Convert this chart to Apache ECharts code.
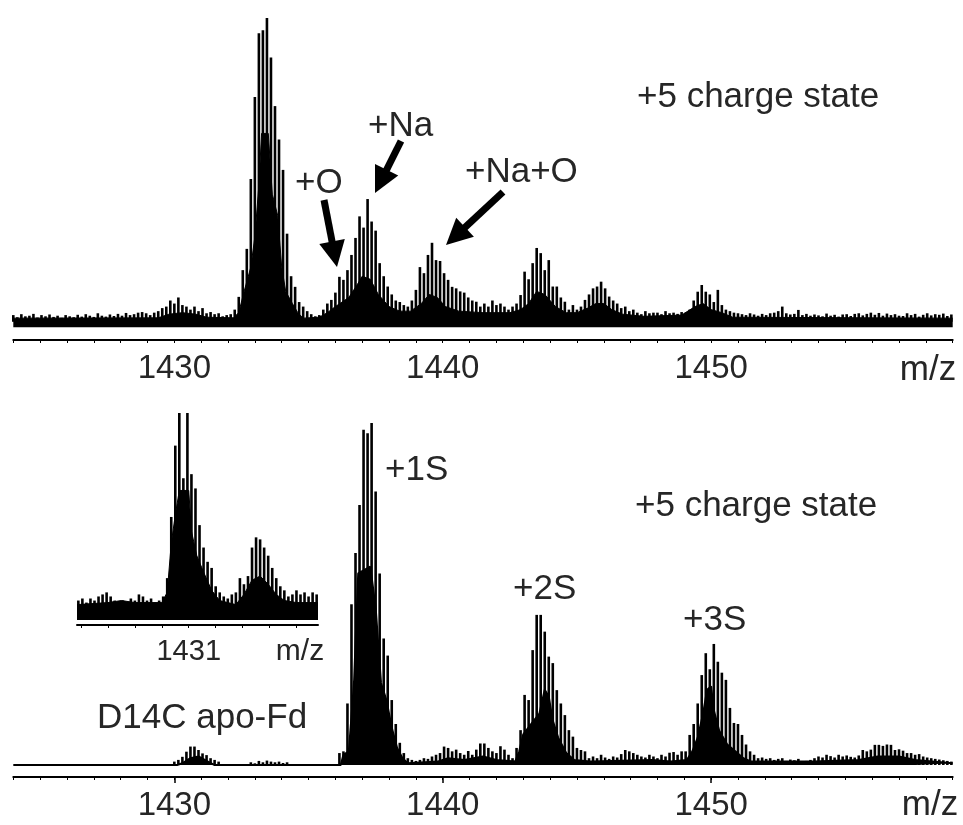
<!DOCTYPE html>
<html>
<head>
<meta charset="utf-8">
<title>D14C apo-Fd, +5 charge state</title>
<script src="https://cdn.jsdelivr.net/npm/echarts@6/dist/echarts.min.js"></script>
<style>
  html, body { margin: 0; padding: 0; background: #fff; }
  #chart { width: 963px; height: 825px; }
</style>
</head>
<body>
<div id="chart"></div>
<script>
// m/z axis shared by the two big panels
var mzMin = 1424, mzMax = 1459;
var tickLabels = [1430, 1440, 1450];
var step = 0.15;            // sample spacing of the spectra (m/z)

// top spectrum: spike heights from 1424 m/z, every 0.15
var topSpikes = [
  2.2, 1.5, 2.5, 1.8, 2.0, 2.6, 1.4, 2.2, 1.8, 2.4,
  1.6, 2.0, 1.3, 2.2, 1.8, 1.5, 2.3, 1.7, 2.5, 2.0,
  1.6, 2.8, 2.0, 1.7, 2.4, 1.9, 2.6, 2.0, 2.9, 2.2,
  2.5, 3.0, 3.2, 2.8, 2.2, 3.0, 3.5, 4.5, 5.0, 7.0,
  6.0, 8.0, 5.5, 5.0, 4.0, 5.0, 3.5, 4.5, 2.8, 3.2,
  2.5, 2.8, 1.8, 2.2, 2.5, 4.0, 8.2, 17, 24, 47,
  74, 95, 96, 100, 87, 71, 60, 50, 29, 15,
  11.5, 6.5, 5.0, 3.5, 2.5, 1.8, 2.2, 4.0, 6.0, 7.2,
  9.6, 14.8, 13.8, 17, 22, 27.6, 34.7, 31, 40.4, 33,
  30, 19.3, 15, 11.6, 9.0, 7.0, 6.5, 5.5, 5.0, 7.0,
  10.5, 18, 16, 22, 26, 20.3, 20, 16, 13.8, 11.5,
  11, 10, 9.6, 8.0, 7.0, 6.6, 5.0, 6.0, 5.0, 7.0,
  5.5, 6.0, 5.0, 4.0, 5.0, 6.0, 8.8, 16.5, 14, 19.3,
  24.3, 22.6, 17, 20.3, 11.6, 11.6, 8.0, 6.6, 4.0, 5.5,
  4.0, 5.0, 7.2, 9.0, 11, 11.6, 13.2, 11, 8.3, 7.0,
  6.0, 4.5, 5.0, 3.5, 4.0, 3.0, 2.5, 3.5, 2.8, 3.0,
  3.0, 2.5, 3.5, 2.8, 3.0, 2.6, 3.2, 3.0, 4.0, 7.0,
  9.9, 12.1, 9.9, 9.0, 6.5, 10.5, 5.5, 4.0, 3.5, 3.0,
  2.8, 2.5, 2.2, 2.8, 2.4, 2.0, 2.6, 2.2, 2.8, 3.0,
  3.5, 5.0, 2.8, 2.4, 2.6, 3.9, 2.2, 2.6, 2.0, 2.4,
  2.1, 1.8, 2.7, 2.0, 2.3, 1.7, 2.4, 2.5, 1.9, 2.6,
  2.8, 2.1, 2.6, 3.0, 2.3, 2.9, 2.0, 2.7, 2.2, 2.5,
  2.0, 1.9, 2.8, 2.2, 2.6, 1.7, 2.3, 2.8, 2.1, 2.5,
  2.3, 2.7, 1.9, 2.4
];
// top spectrum: solid lower part (noise band and peak cores)
var topCore = [
  [1424, 1.2], [1429.4, 1.3], [1429.8, 2.5], [1430.3, 3], [1430.8, 2.5], [1431.2, 1.5],
  [1432.2, 1.3], [1432.4, 3], [1432.6, 10], [1432.85, 18], [1433.0, 28], [1433.15, 45],
  [1433.25, 62], [1433.5, 62], [1433.65, 42], [1433.85, 35], [1434.0, 18], [1434.15, 10],
  [1434.4, 6], [1434.6, 3], [1434.8, 1.2], [1435.4, 1.5], [1435.7, 3], [1436.0, 5],
  [1436.5, 8], [1436.8, 12], [1437.0, 15], [1437.3, 14], [1437.6, 9], [1438.0, 5],
  [1438.4, 3.5], [1438.8, 3.5], [1439.2, 6], [1439.5, 9], [1439.8, 8], [1440.1, 5],
  [1440.6, 3.5], [1441.5, 3], [1442.5, 3], [1442.9, 4], [1443.2, 6], [1443.5, 10],
  [1443.8, 9], [1444.2, 5], [1444.6, 3], [1445.0, 3], [1445.4, 4.5], [1445.7, 6],
  [1446.0, 6], [1446.3, 4], [1446.7, 2.5], [1447.5, 1.8], [1448.9, 2.2], [1449.4, 5],
  [1449.7, 6], [1450.0, 4], [1450.4, 3], [1450.8, 1.5], [1459, 1.2]
];

// bottom spectrum (D14C apo-Fd): spike heights from 1424 m/z, every 0.15
var bottomSpikes = [
  0, 0, 0, 0, 0, 0, 0, 0, 0, 0,
  0, 0, 0, 0, 0, 0, 0, 0, 0, 0,
  0, 0, 0, 0, 0, 0, 0, 0, 0, 0,
  0, 0, 0, 0, 0, 0, 0, 0, 0, 0,
  1.0, 1.5, 2.4, 3.9, 5.4, 5.4, 4.4, 3.4, 2.9, 2.0,
  1.5, 1.0, 0, 0, 0, 0, 0, 0, 0, 0.8,
  0.5, 1.2, 0.8, 1.3, 1.0, 0.8, 1.0, 0.6, 0.8, 0,
  0, 0, 0, 0, 0, 0, 0, 0, 0, 0,
  0, 3.5, 4.0, 18, 47, 62, 76, 98, 97, 100,
  80, 56, 37, 32, 19, 12, 6.5, 3.5, 2.0, 1.5,
  1.2, 1.5, 2.0, 1.8, 2.5, 3.0, 3.5, 5.4, 5.0, 4.0,
  4.5, 3.5, 3.0, 4.1, 3.0, 4.5, 6.3, 6.3, 5.0, 4.0,
  3.5, 5.5, 4.5, 3.0, 2.0, 5.0, 10.2, 20.5, 19, 33.6,
  43.9, 43.9, 39, 31.7, 29.8, 21.9, 18, 14.6, 10.2, 8.3,
  5.0, 4.4, 4.0, 2.0, 2.5, 2.0, 3.0, 2.2, 1.8, 2.5,
  2.2, 3.2, 4.4, 4.0, 3.5, 3.0, 2.5, 2.2, 3.0, 2.5,
  2.0, 3.0, 2.5, 3.6, 3.8, 3.0, 4.0, 4.0, 8.8, 12,
  18, 26.3, 32.7, 28, 35.4, 30.2, 27, 24.9, 16.7, 12.3,
  12, 8.8, 6.0, 4.0, 3.0, 2.0, 2.2, 1.8, 2.0, 1.5,
  1.8, 2.0, 1.2, 1.6, 1.4, 1.8, 1.0, 1.2, 1.5, 2.0,
  2.5, 2.2, 3.0, 2.6, 2.2, 3.0, 2.5, 2.8, 2.4, 2.2,
  2.8, 4.4, 4.0, 4.5, 5.9, 5.9, 5.6, 6.0, 5.9, 4.4,
  4.6, 4.2, 3.5, 3.5, 3.0, 3.2, 2.5, 2.2, 2.0, 1.8,
  1.6, 1.4, 1.2, 1.0
];
var bottomCore = [
  [1424, 0], [1430.1, 0], [1430.3, 0.5], [1430.6, 2], [1430.9, 2.5], [1431.2, 1.2],
  [1431.5, 0], [1436.2, 0], [1436.3, 3], [1436.5, 4], [1436.6, 14], [1436.7, 25],
  [1436.85, 56], [1437.3, 58], [1437.5, 46], [1437.7, 24], [1437.9, 19], [1438.1, 11],
  [1438.3, 5], [1438.5, 2], [1438.7, 0.5], [1439.8, 1], [1440.2, 2], [1440.8, 1.5],
  [1441.5, 2.5], [1442.0, 1.5], [1442.7, 1], [1442.85, 4], [1443.0, 9], [1443.3, 12],
  [1443.6, 15], [1443.8, 22], [1443.95, 20], [1444.1, 13], [1444.3, 8], [1444.6, 3.5],
  [1444.9, 1.5], [1445.5, 1], [1447.8, 1.5], [1448.5, 1], [1449.1, 1.5], [1449.3, 4],
  [1449.5, 8], [1449.7, 15], [1449.85, 22], [1450.0, 23], [1450.1, 16], [1450.3, 10],
  [1450.6, 6], [1450.9, 4], [1451.2, 2], [1451.5, 1], [1453.8, 1], [1455.5, 1.5],
  [1456.2, 2.5], [1457.0, 2.5], [1457.6, 1.5], [1459, 0.5]
];

// inset: zoom around 1431
var insetMin = 1430.17, insetMax = 1431.96;
var insetStart = 1430.18, insetStep = 0.03;
var insetTicks = [1430.2, 1430.4, 1430.6, 1430.8, 1431.0, 1431.2, 1431.4, 1431.6, 1431.8];
var insetLabels = [1431];
var insetSpikes = [
  8, 9, 7, 9, 8, 10, 11, 12, 10, 8,
  7, 8, 7, 9, 8, 11, 10, 8, 9, 7,
  8, 10, 19, 49, 84, 100, 68, 100, 70, 63,
  45, 34, 27, 24, 15, 12, 10, 9, 11, 12,
  19, 16, 20, 34, 39, 38, 34, 30, 24, 19,
  15, 13, 10, 11, 13, 11, 12, 10, 12, 11
];
var insetCore = [
  [1430.17, 6], [1430.4, 7], [1430.5, 8], [1430.6, 7], [1430.8, 7], [1430.84, 12],
  [1430.87, 36], [1430.9, 50], [1430.93, 62], [1431.0, 62], [1431.02, 42], [1431.06, 30],
  [1431.11, 22], [1431.17, 13], [1431.23, 8], [1431.35, 6], [1431.41, 11], [1431.47, 18],
  [1431.53, 20], [1431.59, 16], [1431.65, 11], [1431.71, 8], [1431.8, 7], [1431.96, 7]
];

var font = '"Liberation Sans", Arial, sans-serif';
var ink = '#262626';

function toPairs(start, d, values) {
  return values.map(function (v, i) {
    return [+(start + i * d).toFixed(3), v];
  });
}

function mainAxis(grid) {
  return {
    type: 'value', gridIndex: grid, position: 'bottom', min: mzMin, max: mzMax, interval: 1,
    axisLine: { onZero: false, lineStyle: { color: '#000', width: 2 } },
    axisTick: { length: 3, lineStyle: { color: '#000', width: 1 } },
    axisLabel: {
      margin: 12, fontSize: 33, fontFamily: font, color: ink,
      formatter: function (v) { return tickLabels.indexOf(v) >= 0 ? String(v) : ''; }
    },
    splitLine: { show: false }
  };
}

function spikes(xi, data) {
  return {
    type: 'bar', xAxisIndex: xi, yAxisIndex: xi, data: data,
    barWidth: 2.6, itemStyle: { color: '#000' }, silent: true
  };
}

function core(xi, data, origin, w) {
  return {
    type: 'line', xAxisIndex: xi, yAxisIndex: xi, data: data,
    symbol: 'none', silent: true,
    lineStyle: { color: '#000', width: w },
    areaStyle: { color: '#000', opacity: 1, origin: origin }
  };
}

function text(str, x, y, size, align) {
  return {
    type: 'text', x: x, y: y, silent: true,
    style: {
      text: str, fontSize: size, fontFamily: font, fill: ink,
      align: align || 'left', verticalAlign: 'middle'
    }
  };
}

function arrow(x1, y1, x2, y2) {
  var dx = x2 - x1, dy = y2 - y1, len = Math.sqrt(dx * dx + dy * dy);
  var ux = dx / len, uy = dy / len;
  var hl = 26, hw = 13;
  var bx = x2 - ux * hl, by = y2 - uy * hl;
  return {
    type: 'group', silent: true,
    children: [
      { type: 'line', shape: { x1: x1, y1: y1, x2: bx + ux * 3, y2: by + uy * 3 },
        style: { stroke: '#000', lineWidth: 7 } },
      { type: 'polygon',
        shape: { points: [[x2, y2], [bx - uy * hw, by + ux * hw], [bx + uy * hw, by - ux * hw]] },
        style: { fill: '#000' } }
    ]
  };
}

var chart = echarts.init(document.getElementById('chart'));

chart.setOption({
  animation: false,
  backgroundColor: '#fff',
  grid: [
    { left: 13.3, top: 18, width: 939.4, height: 322 },
    { left: 13.3, top: 423, width: 939.4, height: 354 },
    { left: 77, top: 413, width: 241, height: 212 }
  ],
  xAxis: [
    mainAxis(0),
    mainAxis(1),
    {
      type: 'value', gridIndex: 2, position: 'bottom', min: insetMin, max: insetMax,
      axisLine: { onZero: false, lineStyle: { color: '#000', width: 2 } },
      axisTick: { customValues: insetTicks, length: 3, lineStyle: { color: '#000', width: 1 } },
      axisLabel: {
        customValues: insetLabels, margin: 12, fontSize: 29, fontFamily: font, color: ink,
        formatter: function (v) { return String(Math.round(v)); }
      },
      splitLine: { show: false }
    },
    {
      // longer ticks at the labelled values of the lower panel
      type: 'value', gridIndex: 1, position: 'bottom', offset: 0, min: mzMin, max: mzMax,
      axisLine: { show: false, onZero: false },
      axisTick: { inside: false, customValues: tickLabels, length: 6, lineStyle: { color: '#000', width: 1.5 } },
      axisLabel: { show: false },
      splitLine: { show: false }
    }
  ],
  yAxis: [
    { type: 'value', gridIndex: 0, min: -6, max: 100, show: false, splitLine: { show: false } },
    { type: 'value', gridIndex: 1, min: -3.5, max: 100, show: false, splitLine: { show: false } },
    { type: 'value', gridIndex: 2, min: -4, max: 100, show: false, splitLine: { show: false } }
  ],
  series: [
    core(0, topCore, -1.8, 1),
    spikes(0, toPairs(mzMin, step, topSpikes)),
    core(1, bottomCore, 0, 2),
    spikes(1, toPairs(mzMin, step, bottomSpikes)),
    core(2, insetCore, -1.5, 1),
    spikes(2, toPairs(insetStart, insetStep, insetSpikes))
  ],
  graphic: [
    text('+5 charge state', 637, 97, 35),
    text('+Na', 368, 126, 35),
    text('+O', 295, 183, 35),
    text('+Na+O', 465, 172, 35),
    arrow(324, 200, 337, 267),
    arrow(401, 141, 375, 193),
    arrow(503, 192, 446, 245),
    text('m/z', 928, 370, 35, 'center'),
    text('+1S', 385, 470, 35),
    text('+5 charge state', 635, 506, 35),
    text('+2S', 513, 589, 35),
    text('+3S', 683, 620, 35),
    text('D14C apo-Fd', 97, 718, 35),
    text('m/z', 930, 805, 35, 'center'),
    text('m/z', 300, 652, 30, 'center')
  ]
});
</script>
</body>
</html>
